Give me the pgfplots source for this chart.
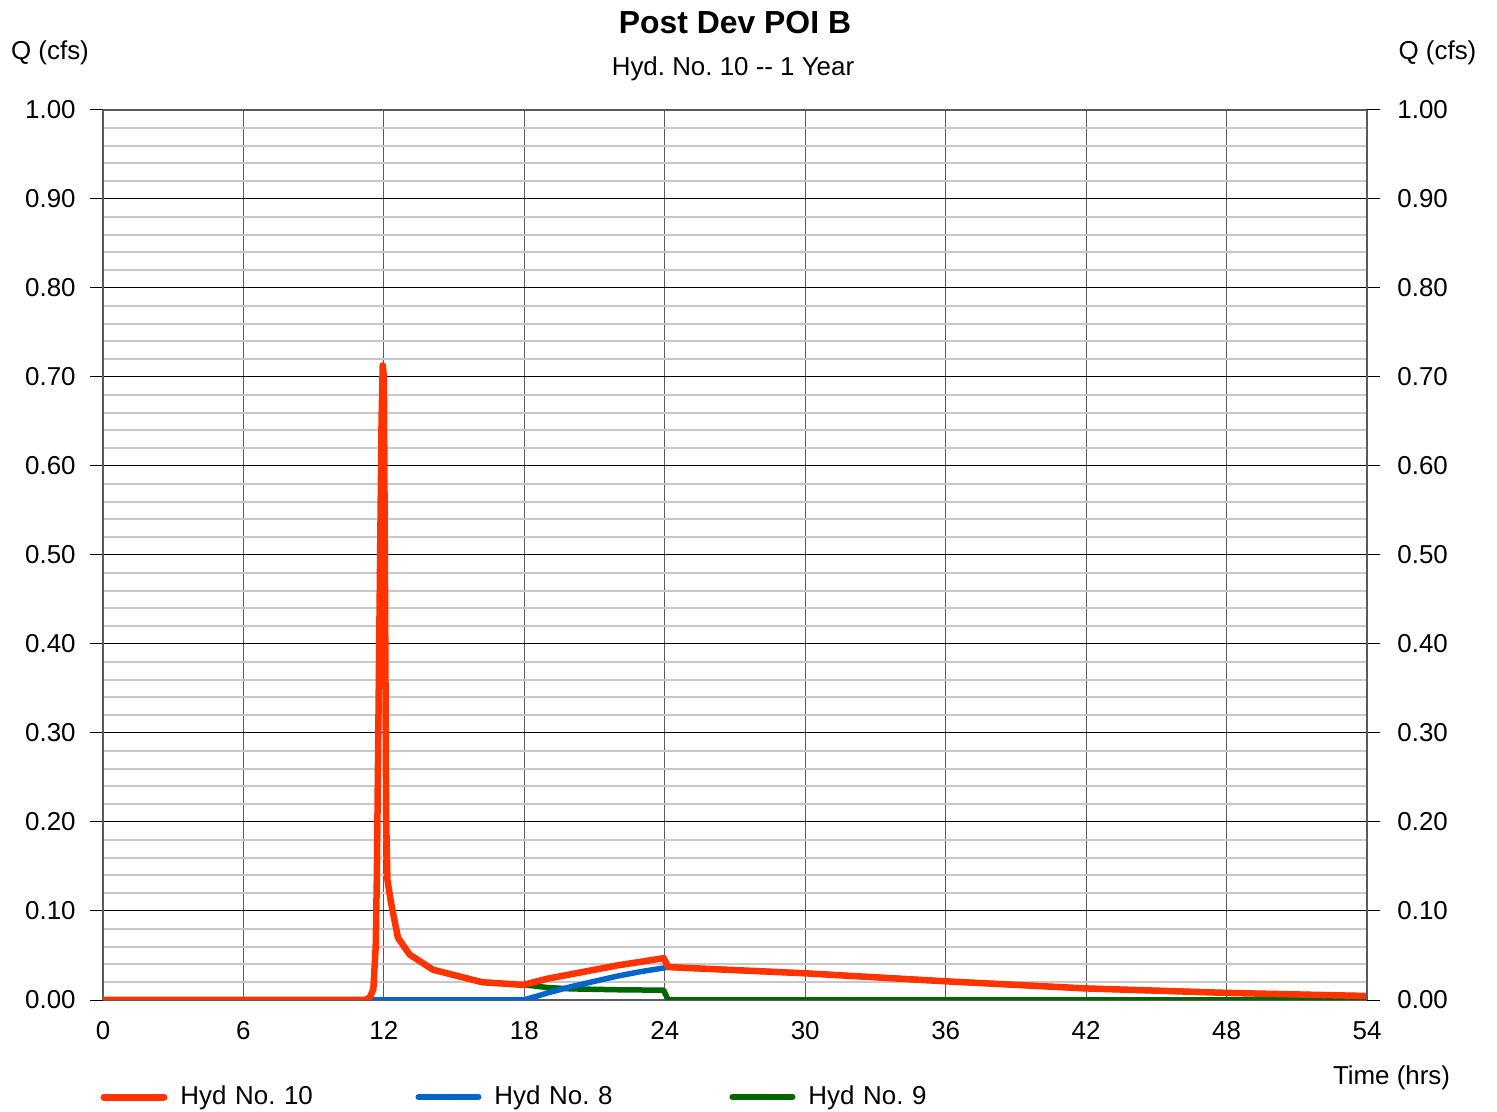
\documentclass[border=0pt]{standalone}
\usepackage{fontspec}
\setmainfont{Liberation Sans}
\usepackage{pgfplots}
\pgfplotsset{compat=1.18}
\frenchspacing

\definecolor{hydred}{RGB}{255,51,0}
\definecolor{hydblue}{RGB}{0,102,204}
\definecolor{hydgreen}{RGB}{0,102,0}
\definecolor{minorgray}{RGB}{200,200,200}
\definecolor{framegray}{RGB}{90,90,90}

\newcommand\lbl{\fontsize{13}{15.6}\selectfont}

\begin{document}
\begin{tikzpicture}
\pgfplotsset{
  hydaxis/.style={
    width=632bp, height=445bp, scale only axis,
    xmin=0, xmax=54, ymin=0, ymax=1,
    at={(0,0)}, anchor=south west,
    /pgf/number format/assume math mode=true,
    tick label style={font=\lbl},
    ytick={0,0.1,0.2,0.3,0.4,0.5,0.6,0.7,0.8,0.9,1.0},
    yticklabel style={/pgf/number format/fixed, /pgf/number format/fixed zerofill, /pgf/number format/precision=2},
    tick align=outside,
    major tick length=6.5bp,
    minor tick length=0pt,
  }
}

\begin{axis}[
  hydaxis,
  xtick={0,6,12,18,24,30,36,42,48,54},
  xtick style={draw=none},
  ytick pos=left,
  ytick style={black, line width=0.5bp},
  minor y tick num=4,
  xmajorgrids, ymajorgrids, yminorgrids,
  x grid style={framegray, line width=0.6bp},
  major y grid style={black, line width=0.5bp},
  minor y grid style={minorgray, line width=1bp},
  axis line style={framegray, line width=0.6bp},
  yticklabel style={inner xsep=0pt, xshift=-7bp},
  xticklabel style={inner ysep=0pt, yshift=-4bp},
  legend style={at={(-0.002,-0.109)}, anchor=west, draw=none, fill=none,
    inner sep=0pt, outer sep=0pt,
    font=\lbl, legend columns=3, nodes={inner sep=0pt},
    /tikz/every odd column/.append style={column sep=6.5bp},
    /tikz/every even column/.append style={text width=117.5bp, align=left, column sep=0pt}},
  legend image code/.code={\draw[#1, line cap=round] (0bp,0bp) -- (30bp,0bp);},
  line join=round,
]
\addlegendimage{hydred, line width=3.5bp}
\addlegendentry{Hyd No. 10}
\addlegendimage{hydblue, line width=3bp}
\addlegendentry{Hyd No. 8}
\addlegendimage{hydgreen, line width=3bp}
\addlegendentry{Hyd No. 9}

% Hyd No. 9
\addplot[hydgreen, line width=2.75bp, forget plot] table {
18.0 0.017
19.0 0.014
20.0 0.0125
22.0 0.0115
23.95 0.011
24.15 0
54 0
};
% Hyd No. 8
\addplot[hydblue, line width=2.75bp, forget plot] table {
0 0
17.95 0
18.5 0.004
19.0 0.008
20.0 0.015
21.0 0.021
22.0 0.027
23.0 0.032
23.95 0.036
24.15 0.037
30 0.030
36 0.021
42 0.013
48 0.008
54 0.0045
};
% Hyd No. 10
\addplot[hydred, line width=3.25bp, forget plot] table {
0 0
11.2 0
11.4 0.003
11.55 0.012
11.65 0.06
11.7 0.14
11.8 0.40
11.9 0.65
11.95 0.713
12.0 0.70
12.05 0.45
12.1 0.20
12.15 0.135
12.3 0.11
12.6 0.07
13.1 0.051
14.1 0.034
15.0 0.028
16.2 0.020
17.95 0.017
19.0 0.024
20.0 0.029
21.0 0.034
22.0 0.039
23.0 0.043
23.95 0.047
24.15 0.037
30 0.030
36 0.021
42 0.013
48 0.008
54 0.0045
};
\end{axis}

% right-hand scale
\begin{axis}[
  hydaxis,
  hide x axis,
  axis y line*=right,
  y axis line style={framegray, line width=0.6bp},
  ytick style={black, line width=0.5bp},
  yticklabel style={inner xsep=0pt, xshift=8.5bp},
]
\end{axis}

\node[font=\bfseries\fontsize{16}{19}\selectfont, inner sep=0pt] at (316bp,488.5bp) {Post Dev POI B};
\node[font=\lbl, inner sep=0pt] at (315bp,465.5bp) {Hyd. No. 10 -{}- 1 Year};
\node[font=\lbl, inner sep=0pt] at (-26.5bp,473.5bp) {Q (cfs)};
\node[font=\lbl, inner sep=0pt] at (667.25bp,473.5bp) {Q (cfs)};
\node[font=\lbl, inner sep=0pt] at (644.25bp,-39bp) {Time (hrs)};

\path[use as bounding box] (-51.5bp,-56bp) rectangle (697bp,500bp);
\end{tikzpicture}
\end{document}
